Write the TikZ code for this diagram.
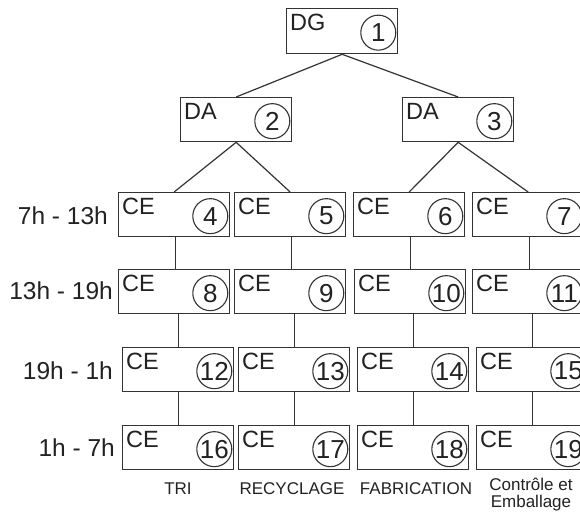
\documentclass[tikz,border=0pt]{standalone}
\usepackage{fontspec}
\setmainfont{Liberation Sans}
\definecolor{ink}{HTML}{222222}
\definecolor{edge}{HTML}{333333}
\newcommand\orgbox[6]{% name, left, top, label, num, height
  \node[box, minimum height=#6pt, anchor=north west] (#1) at (#2,#3) {};
  \node[lbl, anchor=base west] (#1t) at ([xshift=4pt,yshift=-22pt]#1.north west) {#4};
  \node[num] (#1n) at ([xshift=-20pt,yshift=-1.5pt]#1.east) {#5};
}
\begin{document}
\begin{tikzpicture}[x=1pt,y=-1pt,
  box/.style={draw=edge, line width=1.3pt, minimum width=111pt, inner sep=0, fill=white},
  lbl/.style={font=\fontsize{23.5}{23.5}\selectfont, text=ink, inner sep=0},
  num/.style={circle, draw=edge, line width=1.1pt, minimum size=35pt, inner sep=0, font=\fontsize{26}{26}\selectfont, text=ink},
  link/.style={draw=edge, line width=1.2pt},
  shiftlbl/.style={font=\fontsize{24.5}{24.5}\selectfont, text=ink, inner sep=0, anchor=east},
  dept/.style={font=\fontsize{17}{17}\selectfont, text=ink, inner sep=0, anchor=base, align=center}]
\clip (0,0) rectangle (580,512);
\fill[white] (0,0) rectangle (580,512);
% boxes
\orgbox{b1}{286}{8}{DG}{1}{45}
\orgbox{b2}{180}{97}{DA}{2}{44}
\orgbox{b3}{402}{97}{DA}{3}{44}
\orgbox{b4}{118}{192}{CE}{4}{44}
\orgbox{b5}{234}{192}{CE}{5}{44}
\orgbox{b6}{353}{192}{CE}{6}{44}
\orgbox{b7}{472}{192}{CE}{7}{44}
\orgbox{b8}{118}{269}{CE}{8}{44}
\orgbox{b9}{234}{269}{CE}{9}{44}
\orgbox{b10}{354}{269}{CE}{10}{44}
\orgbox{b11}{472}{269}{CE}{11}{44}
\orgbox{b12}{122}{347}{CE}{12}{44}
\orgbox{b13}{238}{347}{CE}{13}{44}
\orgbox{b14}{357}{347}{CE}{14}{44}
\orgbox{b15}{476}{347}{CE}{15}{44}
\orgbox{b16}{122}{425}{CE}{16}{44}
\orgbox{b17}{238}{425}{CE}{17}{44}
\orgbox{b18}{357}{425}{CE}{18}{44}
\orgbox{b19}{476}{425}{CE}{19}{44}
% tree links
\draw[link] (b1.south) -- (b2.north);
\draw[link] (b1.south) -- (b3.north);
\draw[link] (b2.south) -- (b4.north);
\draw[link] (b2.south) -- (b5.north);
\draw[link] (b3.south) -- (b6.north);
\draw[link] (b3.south) -- (b7.north);
\foreach \a/\b in {4/8,5/9,6/10,7/11}
  \draw[link] ([xshift=1pt]b\a.south) -- ([xshift=1pt]b\a.south |- b\b.north);
\foreach \a/\b in {8/12,9/13,10/14,11/15,12/16,13/17,14/18,15/19}
  \draw[link] (b\b.north |- b\a.south) -- (b\b.north);
% shift labels
\node[shiftlbl] (t1) at (108,216) {7h - 13h};
\node[shiftlbl] (t2) at (113,291) {13h - 19h};
\node[shiftlbl] (t3) at (113,371) {19h - 1h};
\node[shiftlbl] (t4) at (115,448) {1h - 7h};
% departments
\node[dept] (d1) at (178,494) {TRI};
\node[dept] (d2) at (292,494) {RECYCLAGE};
\node[dept] (d3) at (416,494) {FABRICATION};
\node[dept] (d4) at (531,507) {Contrôle et\\Emballage};
\end{tikzpicture}
\end{document}
